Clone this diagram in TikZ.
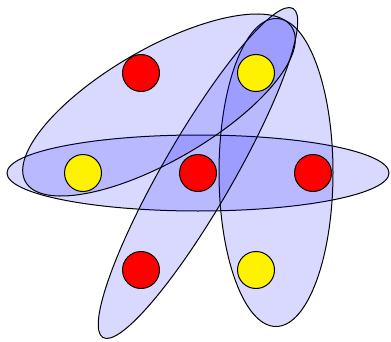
\documentclass[tikz,border=0pt]{standalone}
\usepackage{tikz}
\usetikzlibrary{positioning}

\begin{document}
\begin{tikzpicture}[
        x=1pt, y=1pt,
        % vertex styles
        vertex/.style={
            circle,
            draw,
            line width=1pt,
            minimum size=37pt,
            inner sep=0pt
        },
        redv/.style={vertex, fill=red},
        yellowv/.style={vertex, fill=yellow},
        % hyperedge style
        hedge/.style={
            draw,
            line width=1pt,
            fill=blue,
            fill opacity=0.15
        }
    ]
    \useasboundingbox (0,0) rectangle (391,341);

    % --- 1. HYPEREDGES ---
    \draw[hedge] (198,168) ellipse [x radius=191, y radius=38];
    \draw[hedge] (276,168.5) ellipse [x radius=57, y radius=154];
    \draw[hedge, rotate around={60:(198,168)}] (198,168) ellipse [x radius=190, y radius=35];
    \draw[hedge, rotate around={30:(159,236)}] (159,236) ellipse [x radius=154, y radius=56];

    % --- 2. VERTICES ---
    \node[redv]    (topL) at (141,268) {};
    \node[yellowv] (topR) at (256,268) {};
    \node[yellowv] (midL) at (83,168) {};
    \node[redv]    (midC) at (198,168) {};
    \node[redv]    (midR) at (313,168) {};
    \node[redv]    (botL) at (141,71) {};
    \node[yellowv] (botR) at (256,71) {};

\end{tikzpicture}
\end{document}
